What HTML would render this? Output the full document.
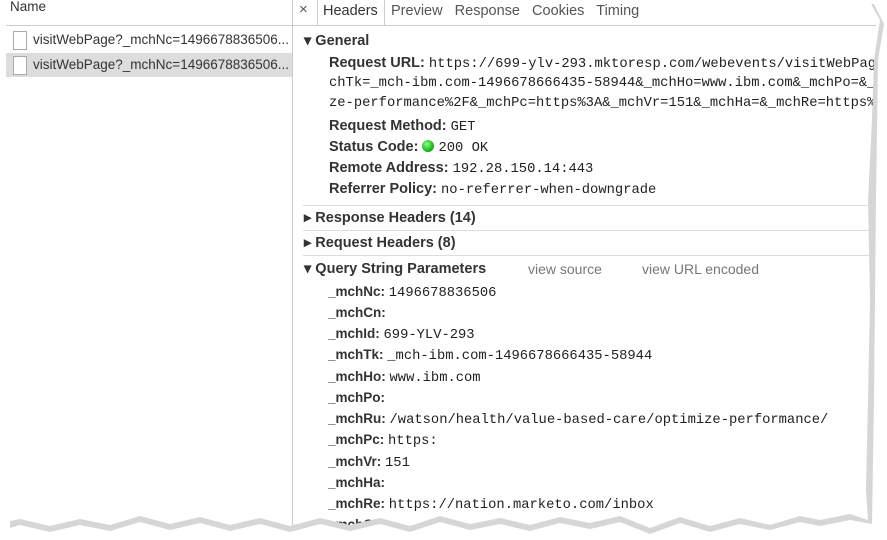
<!DOCTYPE html>
<html><head><style>
body{margin:0;width:887px;height:540px;background:#fff;overflow:hidden;position:relative;font-family:"Liberation Sans",sans-serif;}
#pg{position:absolute;left:0;top:0;width:887px;height:540px;overflow:hidden;clip-path:polygon(6px 0,870px 0,872px 6px,880px 20px,874px 60px,872px 120px,868px 200px,870px 300px,868px 400px,866px 490px,868px 520px,850px 514px,820px 520px,800px 516px,770px 525px,740px 518px,710px 526px,680px 517px,650px 528px,620px 516px,590px 523px,560px 517px,530px 525px,500px 518px,470px 524px,440px 516px,410px 526px,380px 518px,350px 525px,320px 518px,290px 526px,260px 518px,230px 525px,200px 517px,170px 524px,140px 516px,110px 525px,80px 519px,50px 526px,20px 519px,6px 522px);background:#fff;}
.t{position:absolute;white-space:nowrap;}
.b{font-weight:bold;font-size:14.5px;color:#333;}
.m{font-family:"Liberation Mono",monospace;font-size:13.8px;color:#222;font-weight:normal;}
.h{position:absolute;height:1px;background:#ddd;}
.p{font-weight:bold;font-size:13.5px;color:#333;}
.g{color:#777;font-size:14px;}
.cb{position:absolute;left:13px;width:12px;height:17px;border:1px solid #aaa;background:#fff;}
</style></head><body>
<svg width="887" height="540" style="position:absolute;left:0;top:0">
<polygon fill="#bbb" opacity="0.6" points="10,6 874,4 884,24 878,60 876,200 874,400 872,524 850,520 820,526 800,522 770,530 740,524 710,532 680,523 650,534 620,522 590,529 560,523 530,531 500,524 470,530 440,522 410,532 380,524 350,531 320,524 290,532 260,524 230,531 200,523 170,530 140,522 110,531 80,525 50,532 20,525 10,528"/>
</svg>
<div id="pg">
<div class="h" style="left:6px;top:25px;width:870px;background:#ccc"></div>
<div style="position:absolute;left:292px;top:0;width:1px;height:540px;background:#ccc"></div>
<div class="t" style="left:10px;top:-1px;font-size:13.5px;color:#333">Name</div>
<div class="cb" style="top:31px"></div>
<div class="t" style="left:33px;top:32px;font-size:13.5px;color:#333">visitWebPage?_mchNc=1496678836506...</div>
<div style="position:absolute;left:6px;top:53px;width:286px;height:24px;background:#ddd"></div>
<div class="cb" style="top:56px"></div>
<div class="t" style="left:33px;top:57px;font-size:13.5px;color:#333">visitWebPage?_mchNc=1496678836506...</div>
<div class="t" style="left:299px;top:1px;font-size:15px;color:#555">×</div>
<div style="position:absolute;left:317px;top:0;width:1px;height:25px;background:#ccc"></div>
<div style="position:absolute;left:384px;top:0;width:1px;height:25px;background:#ccc"></div>
<div class="t" style="left:323px;top:3px;font-size:14.5px;color:#333">Headers</div>
<div class="t" style="left:391px;top:3px;font-size:14.5px;color:#555">Preview&nbsp;&nbsp; Response&nbsp;&nbsp; Cookies&nbsp;&nbsp; Timing</div>
<div class="t b" style="left:304px;top:33px">▾ General</div>
<div class="t b" style="left:329px;top:55px">Request URL: <span class="m">https://699-ylv-293.mktoresp.com/webevents/visitWebPage?_mchNc=1</span></div>
<div class="t m" style="left:329px;top:76px">chTk=_mch-ibm.com-1496678666435-58944&amp;_mchHo=www.ibm.com&amp;_mchPo=&amp;_mch</div>
<div class="t m" style="left:329px;top:96px">ze-performance%2F&amp;_mchPc=https%3A&amp;_mchVr=151&amp;_mchHa=&amp;_mchRe=https%3A</div>
<div class="t b" style="left:329px;top:118px">Request Method: <span class="m">GET</span></div>
<div class="t b" style="left:329px;top:139px">Status Code: <span style="display:inline-block;width:12px;height:12px;border-radius:50%;background:radial-gradient(circle at 40% 35%,#8f8,#1a1 70%);vertical-align:-1px"></span> <span class="m">200 OK</span></div>
<div class="t b" style="left:329px;top:160px">Remote Address: <span class="m">192.28.150.14:443</span></div>
<div class="t b" style="left:329px;top:181px">Referrer Policy: <span class="m">no-referrer-when-downgrade</span></div>
<div class="h" style="left:303px;top:205px;width:570px"></div>
<div class="t b" style="left:304px;top:210px">▸ Response Headers (14)</div>
<div class="h" style="left:303px;top:230px;width:570px"></div>
<div class="t b" style="left:304px;top:235px">▸ Request Headers (8)</div>
<div class="h" style="left:303px;top:255px;width:570px"></div>
<div class="t b" style="left:304px;top:261px">▾ Query String Parameters</div>
<div class="t g" style="left:528px;top:261px">view source</div>
<div class="t g" style="left:642px;top:261px">view URL encoded</div>
<div class="t p" style="left:328px;top:284px">_mchNc: <span class="m">1496678836506</span></div>
<div class="t p" style="left:328px;top:305px">_mchCn:</div>
<div class="t p" style="left:328px;top:326px">_mchId: <span class="m">699-YLV-293</span></div>
<div class="t p" style="left:328px;top:347px">_mchTk: <span class="m">_mch-ibm.com-1496678666435-58944</span></div>
<div class="t p" style="left:328px;top:369px">_mchHo: <span class="m">www.ibm.com</span></div>
<div class="t p" style="left:328px;top:390px">_mchPo:</div>
<div class="t p" style="left:328px;top:411px">_mchRu: <span class="m">/watson/health/value-based-care/optimize-performance/</span></div>
<div class="t p" style="left:328px;top:432px">_mchPc: <span class="m">https:</span></div>
<div class="t p" style="left:328px;top:454px">_mchVr: <span class="m">151</span></div>
<div class="t p" style="left:328px;top:475px">_mchHa:</div>
<div class="t p" style="left:328px;top:496px">_mchRe: <span class="m">https://nation.marketo.com/inbox</span></div>
<div class="t p" style="left:328px;top:517px">_mchCa:</div>
</div>
</body></html>
